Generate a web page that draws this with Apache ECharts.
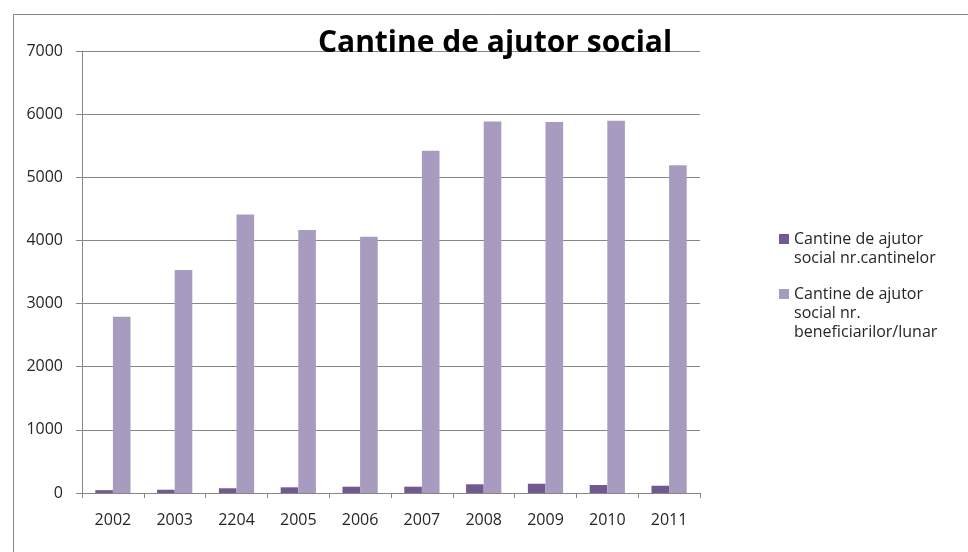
<!DOCTYPE html>
<html>
<head>
<meta charset="utf-8">
<script src="https://cdn.jsdelivr.net/npm/echarts@6/dist/echarts.min.js"></script>
<style>
  html, body { margin: 0; padding: 0; background: #fff; }
  #chart { width: 968px; height: 552px; }
</style>
</head>
<body>
<div id="chart"></div>
<script>
// date
const years = ['2002', '2003', '2204', '2005', '2006', '2007', '2008', '2009', '2010', '2011'];
const nrCantine = [45, 52, 75, 90, 100, 100, 138, 147, 127, 115];
const nrBeneficiari = [2790, 3530, 4410, 4165, 4060, 5420, 5885, 5875, 5895, 5190];
const yTicks = [0, 1000, 2000, 3000, 4000, 5000, 6000, 7000];

const seriesNames = [
  'Cantine de ajutor social nr.cantinelor',
  'Cantine de ajutor social nr. beneficiarilor/lunar'
];
const legendLabels = [
  'Cantine de ajutor\nsocial nr.cantinelor',
  'Cantine de ajutor\nsocial nr.\nbeneficiarilor/lunar'
];

const LH = 19;
const font = '"Open Sans", "DejaVu Sans", sans-serif';

const chart = echarts.init(document.getElementById('chart'));

// legenda: patratul aliniat cu primul rand (randuri goale puse inainte)
function legendFor(i, iconCenter) {
  const n = legendLabels[i].split('\n').length;
  const pad = new Array(n - 1).fill(' ').join('\n');
  const total = 2 * n - 1;
  return {
    orient: 'vertical',
    left: 779,
    top: iconCenter - total * LH / 2,
    padding: 0,
    itemWidth: 10,
    itemHeight: 10,
    itemGap: 0,
    icon: 'rect',
    data: [{ name: seriesNames[i] }],
    formatter: () => pad + '\n' + legendLabels[i],
    textStyle: {
      fontFamily: font,
      fontSize: 16,
      color: '#262626',
      lineHeight: LH
    }
  };
}

const option = {
  animation: false,
  title: {
    text: 'Cantine de ajutor social',
    left: 490,
    top: 23,
    textAlign: 'center',
    textStyle: {
      fontFamily: font,
      fontSize: 30,
      fontWeight: 'bold',
      color: '#000'
    }
  },
  legend: [
    legendFor(0, 239),
    legendFor(1, 294)
  ],
  grid: {
    left: 82,
    right: 268,
    top: 51,
    bottom: 59,
    containLabel: false
  },
  xAxis: {
    type: 'category',
    data: years,
    axisLine: { lineStyle: { color: '#868686', width: 1 } },
    axisTick: { show: true, length: 5, lineStyle: { color: '#868686' } },
    axisLabel: {
      fontFamily: font,
      fontSize: 16,
      color: '#262626',
      margin: 19
    }
  },
  yAxis: {
    type: 'value',
    min: 0,
    max: 7000,
    interval: 1000,
    axisLine: { show: true, lineStyle: { color: '#868686', width: 1 } },
    axisTick: { show: true, inside: false, length: 6, lineStyle: { color: '#868686' } },
    axisLabel: {
      fontFamily: font,
      fontSize: 16,
      color: '#262626',
      margin: 19,
      formatter: v => (yTicks.includes(v) ? String(v) : '')
    },
    splitLine: { lineStyle: { color: '#868686', width: 1 } }
  },
  series: [
    {
      name: seriesNames[0],
      type: 'bar',
      data: nrCantine,
      barGap: '0%',
      barCategoryGap: '43%',
      itemStyle: { color: '#725990' }
    },
    {
      name: seriesNames[1],
      type: 'bar',
      data: nrBeneficiari,
      barGap: '0%',
      barCategoryGap: '43%',
      itemStyle: { color: '#A89BC0' }
    }
  ],
  graphic: [
    {
      type: 'rect',
      left: 11,
      top: 12,
      silent: true,
      shape: { width: 1000, height: 600 },
      style: { fill: 'none', stroke: '#868686', lineWidth: 1 }
    }
  ]
};

chart.setOption(option);
</script>
</body>
</html>
